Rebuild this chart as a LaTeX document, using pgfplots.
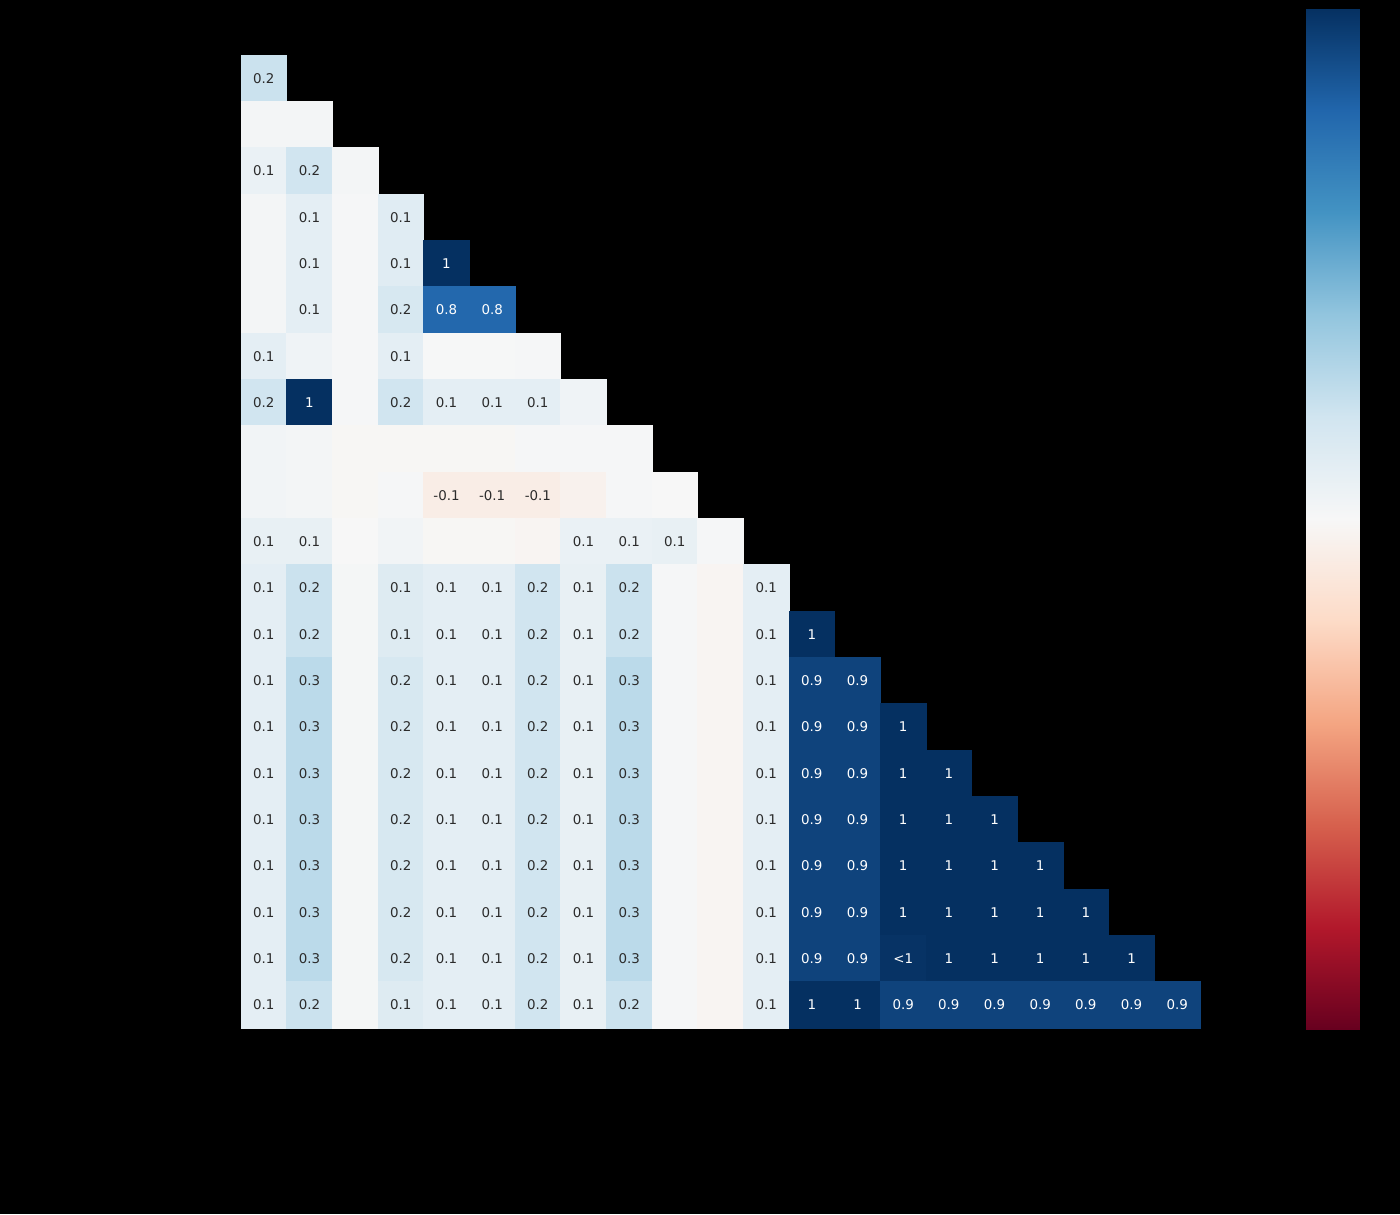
\documentclass[border=0pt]{standalone}
\usepackage{pgfplots}
\pgfplotsset{compat=1.18}
\usepackage{pgfplotstable}
\usepackage{fontspec}
\setmainfont{DejaVu Sans}
\definecolor{txtdark}{HTML}{2B2B2B}
\pgfplotsset{colormap={RdBu}{rgb255=(103,0,31) rgb255=(178,24,43) rgb255=(214,96,77) rgb255=(244,165,130) rgb255=(253,219,199) rgb255=(247,247,247) rgb255=(209,229,240) rgb255=(146,197,222) rgb255=(67,147,195) rgb255=(33,102,172) rgb255=(5,48,97)}}
\pgfdeclareplotmark{cell}{\pgfpathrectangle{\pgfpoint{-11.42pt}{-11.59pt}}{\pgfpoint{22.84pt}{23.18pt}}\pgfusepathqfillstroke}

\pgfplotstableread{
x y v
0 1 0.22
0 2 0.02
1 2 0.02
0 3 0.07
1 3 0.20
2 3 0.02
0 4 0.02
1 4 0.10
2 4 0.01
3 4 0.12
0 5 0.02
1 5 0.10
2 5 0.01
3 5 0.12
4 5 1
0 6 0.02
1 6 0.10
2 6 0.01
3 6 0.17
4 6 0.79
5 6 0.79
0 7 0.10
1 7 0.04
2 7 0.01
3 7 0.10
4 7 0.005
5 7 0.005
6 7 0.01
0 8 0.20
1 8 1
2 8 0.01
3 8 0.20
4 8 0.10
5 8 0.10
6 8 0.10
7 8 0.04
0 9 0.03
1 9 0.02
2 9 -0.01
3 9 -0.01
4 9 -0.01
5 9 -0.01
6 9 0.01
7 9 0.01
8 9 0.01
0 10 0.03
1 10 0.02
2 10 -0.01
3 10 0.01
4 10 -0.07
5 10 -0.07
6 10 -0.07
7 10 -0.04
8 10 0.01
9 10 0.00
0 11 0.08
1 11 0.08
2 11 0.00
3 11 0.03
4 11 -0.01
5 11 -0.01
6 11 -0.02
7 11 0.07
8 11 0.07
9 11 0.08
10 11 0.01
0 12 0.10
1 12 0.22
2 12 0.015
3 12 0.13
4 12 0.10
5 12 0.10
6 12 0.20
7 12 0.08
8 12 0.22
9 12 0.01
10 12 -0.02
11 12 0.10
0 13 0.10
1 13 0.22
2 13 0.015
3 13 0.13
4 13 0.10
5 13 0.10
6 13 0.20
7 13 0.08
8 13 0.22
9 13 0.01
10 13 -0.02
11 13 0.10
12 13 1
0 14 0.10
1 14 0.27
2 14 0.015
3 14 0.17
4 14 0.10
5 14 0.10
6 14 0.20
7 14 0.08
8 14 0.27
9 14 0.01
10 14 -0.02
11 14 0.10
12 14 0.93
13 14 0.93
0 15 0.10
1 15 0.27
2 15 0.015
3 15 0.17
4 15 0.10
5 15 0.10
6 15 0.20
7 15 0.08
8 15 0.27
9 15 0.01
10 15 -0.02
11 15 0.10
12 15 0.93
13 15 0.93
14 15 1
0 16 0.10
1 16 0.27
2 16 0.015
3 16 0.17
4 16 0.10
5 16 0.10
6 16 0.20
7 16 0.08
8 16 0.27
9 16 0.01
10 16 -0.02
11 16 0.10
12 16 0.93
13 16 0.93
14 16 1
15 16 1
0 17 0.10
1 17 0.27
2 17 0.015
3 17 0.17
4 17 0.10
5 17 0.10
6 17 0.20
7 17 0.08
8 17 0.27
9 17 0.01
10 17 -0.02
11 17 0.10
12 17 0.93
13 17 0.93
14 17 1
15 17 1
16 17 1
0 18 0.10
1 18 0.27
2 18 0.015
3 18 0.17
4 18 0.10
5 18 0.10
6 18 0.20
7 18 0.08
8 18 0.27
9 18 0.01
10 18 -0.02
11 18 0.10
12 18 0.93
13 18 0.93
14 18 1
15 18 1
16 18 1
17 18 1
0 19 0.10
1 19 0.27
2 19 0.015
3 19 0.17
4 19 0.10
5 19 0.10
6 19 0.20
7 19 0.08
8 19 0.27
9 19 0.01
10 19 -0.02
11 19 0.10
12 19 0.93
13 19 0.93
14 19 1
15 19 1
16 19 1
17 19 1
18 19 1
0 20 0.10
1 20 0.27
2 20 0.015
3 20 0.17
4 20 0.10
5 20 0.10
6 20 0.20
7 20 0.08
8 20 0.27
9 20 0.01
10 20 -0.02
11 20 0.10
12 20 0.93
13 20 0.93
14 20 0.99
15 20 1
16 20 1
17 20 1
18 20 1
19 20 1
0 21 0.10
1 21 0.22
2 21 0.015
3 21 0.13
4 21 0.10
5 21 0.10
6 21 0.20
7 21 0.08
8 21 0.22
9 21 0.01
10 21 -0.02
11 21 0.10
12 21 1
13 21 1
14 21 0.93
15 21 0.93
16 21 0.93
17 21 0.93
18 21 0.93
19 21 0.93
20 21 0.93
}\cells

\pgfplotstableread{
x y lab
0 1 0.2
0 3 0.1
1 3 0.2
1 4 0.1
3 4 0.1
1 5 0.1
3 5 0.1
1 6 0.1
3 6 0.2
0 7 0.1
3 7 0.1
0 8 0.2
3 8 0.2
4 8 0.1
5 8 0.1
6 8 0.1
4 10 -0.1
5 10 -0.1
6 10 -0.1
0 11 0.1
1 11 0.1
7 11 0.1
8 11 0.1
9 11 0.1
0 12 0.1
1 12 0.2
3 12 0.1
4 12 0.1
5 12 0.1
6 12 0.2
7 12 0.1
8 12 0.2
11 12 0.1
0 13 0.1
1 13 0.2
3 13 0.1
4 13 0.1
5 13 0.1
6 13 0.2
7 13 0.1
8 13 0.2
11 13 0.1
0 14 0.1
1 14 0.3
3 14 0.2
4 14 0.1
5 14 0.1
6 14 0.2
7 14 0.1
8 14 0.3
11 14 0.1
0 15 0.1
1 15 0.3
3 15 0.2
4 15 0.1
5 15 0.1
6 15 0.2
7 15 0.1
8 15 0.3
11 15 0.1
0 16 0.1
1 16 0.3
3 16 0.2
4 16 0.1
5 16 0.1
6 16 0.2
7 16 0.1
8 16 0.3
11 16 0.1
0 17 0.1
1 17 0.3
3 17 0.2
4 17 0.1
5 17 0.1
6 17 0.2
7 17 0.1
8 17 0.3
11 17 0.1
0 18 0.1
1 18 0.3
3 18 0.2
4 18 0.1
5 18 0.1
6 18 0.2
7 18 0.1
8 18 0.3
11 18 0.1
0 19 0.1
1 19 0.3
3 19 0.2
4 19 0.1
5 19 0.1
6 19 0.2
7 19 0.1
8 19 0.3
11 19 0.1
0 20 0.1
1 20 0.3
3 20 0.2
4 20 0.1
5 20 0.1
6 20 0.2
7 20 0.1
8 20 0.3
11 20 0.1
0 21 0.1
1 21 0.2
3 21 0.1
4 21 0.1
5 21 0.1
6 21 0.2
7 21 0.1
8 21 0.2
11 21 0.1
}\labdark

\pgfplotstableread{
x y lab
4 5 1
4 6 0.8
5 6 0.8
1 8 1
12 13 1
12 14 0.9
13 14 0.9
12 15 0.9
13 15 0.9
14 15 1
12 16 0.9
13 16 0.9
14 16 1
15 16 1
12 17 0.9
13 17 0.9
14 17 1
15 17 1
16 17 1
12 18 0.9
13 18 0.9
14 18 1
15 18 1
16 18 1
17 18 1
12 19 0.9
13 19 0.9
14 19 1
15 19 1
16 19 1
17 19 1
18 19 1
12 20 0.9
13 20 0.9
14 20 <1
15 20 1
16 20 1
17 20 1
18 20 1
19 20 1
12 21 1
13 21 1
14 21 0.9
15 21 0.9
16 21 0.9
17 21 0.9
18 21 0.9
19 21 0.9
20 21 0.9
}\lablight

\begin{document}
\begin{tikzpicture}
\fill[black] (0,0) rectangle (700pt,607pt);
\useasboundingbox (0,0) rectangle (700pt,607pt);
\begin{axis}[
  at={(120.5pt,93pt)}, anchor=south west,
  scale only axis, width=479.5pt, height=486.5pt,
  xmin=-0.5, xmax=20.5, ymin=0.5, ymax=21.5, y dir=reverse,
  axis line style={draw=none}, xtick=\empty, ytick=\empty,
  clip=false,
  colormap name=RdBu, point meta min=-1, point meta max=1,
  colorbar,
  colorbar/width=27.5pt,
  colorbar style={
    scale only axis,
    width=27.5pt, height=511pt,
    at={(parent axis.north east)}, anchor=north west,
    xshift=43.965pt, yshift=23.5pt,
    ytick={-1,-0.75,...,1},
    yticklabels={},
    ytick pos=right, tick align=outside,
    major tick length=3pt,
    tick style={black, line width=0.6pt},
    axis line style={black},
  },
  every node near coord/.append style={anchor=center, font=\fontsize{6.7}{7.5}\selectfont},
]
\addplot[scatter, only marks, mark=cell, line width=0.3pt,
  point meta=explicit,
  scatter/use mapped color={draw=mapped color, fill=mapped color}]
  table[x=x, y=y, meta=v] {\cells};
\addplot[draw=none, mark=none, point meta=explicit symbolic, nodes near coords,
  every node near coord/.append style={text=txtdark}]
  table[x=x, y=y, meta=lab] {\labdark};
\addplot[draw=none, mark=none, point meta=explicit symbolic, nodes near coords,
  every node near coord/.append style={text=white}]
  table[x=x, y=y, meta=lab] {\lablight};
\end{axis}
\end{tikzpicture}
\end{document}
